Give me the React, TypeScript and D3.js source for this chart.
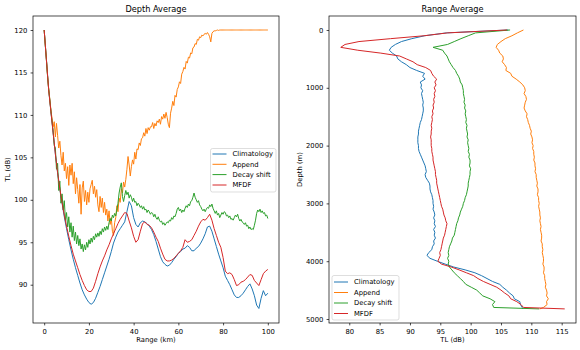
import { useEffect, useRef } from "react";
import * as d3 from "d3";

// ---- data -----------------------------------------------------------------
// left panel: depth-averaged TL vs range
const rangeFine = d3.range(0, 100.001, 0.5); // km
const rangeCoarse = d3.range(0, 101, 1); // km

const depthAvgClimatology = [
  120.0, 116.5, 113.0, 110.4, 107.9, 105.4, 103.2, 101.3, 99.6, 98.0,
  96.6, 95.3, 94.1, 93.0, 92.0, 91.1, 90.2, 89.4, 88.8, 88.3,
  87.9, 87.7, 87.9, 88.4, 89.1, 89.8, 90.6, 91.4, 92.2, 93.0,
  93.9, 94.9, 95.6, 96.2, 96.6, 97.0, 97.4, 98.6, 99.8, 99.3,
  97.9, 97.1, 96.8, 97.3, 97.5, 97.4, 97.2, 96.9, 96.5, 95.9,
  95.1, 94.2, 93.3, 92.7, 92.4, 92.2, 92.3, 92.6, 93.0, 93.3,
  93.7, 93.9, 94.2, 94.3, 94.6, 94.4, 94.0, 94.0, 94.3, 94.5,
  94.9, 95.4, 96.0, 96.8, 96.9, 96.3, 95.4, 94.5, 93.6, 92.8,
  92.0, 91.0, 90.5, 90.0, 89.4, 88.8, 88.5, 88.5, 88.7, 89.0,
  89.4, 89.8, 90.1, 89.5, 88.7, 87.6, 87.2, 88.4, 89.3, 88.7,
  89.0,
];

const depthAvgAppend = [
  120.0, 118.2, 116.5, 114.6, 113.1, 111.9, 110.6, 109.6, 108.6, 109.2,
  107.4, 109.0, 107.6, 106.1, 106.9, 105.2, 104.1, 105.6, 103.4, 104.3,
  102.5, 103.9, 101.7, 104.1, 102.9, 104.3, 101.9, 103.3, 100.7, 102.6,
  101.2, 99.6, 101.8, 98.3, 101.4, 102.2, 99.8, 101.1, 99.4, 100.9,
  99.7, 101.3, 101.8, 102.3, 100.7, 101.6, 100.3, 101.2, 99.4, 98.6,
  100.4, 99.1, 100.2, 98.5, 99.7, 98.2, 98.9, 97.5, 98.7, 97.1,
  97.9, 96.3, 95.8, 97.3, 97.9, 99.3, 98.6, 100.2, 99.7, 101.3,
  100.8, 102.1, 101.5, 102.4, 103.6, 105.1, 104.1, 102.8, 103.9, 104.7,
  104.2, 105.6, 104.8, 106.0, 105.9, 106.7, 106.4, 107.2, 107.3, 107.9,
  107.5, 108.4, 107.8, 108.5, 108.2, 108.6, 108.6, 109.1, 108.4, 109.0,
  108.7, 109.3, 109.1, 109.5, 108.9, 109.8, 109.5, 110.1, 109.6, 110.3,
  109.7, 108.9, 108.5, 110.2, 110.8, 111.6, 111.1, 112.3, 112.1, 113.0,
  113.3, 113.9, 113.7, 114.8, 115.1, 115.6, 115.4, 116.3, 116.1, 116.8,
  116.7, 117.3, 117.2, 117.9, 118.0, 118.4, 118.3, 118.9, 118.8, 119.2,
  119.1, 119.4, 119.3, 119.5, 119.6, 119.5, 119.7, 119.5, 119.2, 118.6,
  119.6, 119.8, 119.9, 119.9, 119.95, 120.0, 119.95, 120.0, 120.0, 120.0,
  120.0, 120.0, 120.0, 120.0, 120.0, 120.0, 120.0, 120.0, 120.0, 120.0,
  120.0, 120.0, 120.0, 120.0, 120.0, 120.0, 120.0, 120.0, 120.0, 120.0,
  120.0, 120.0, 120.0, 120.0, 120.0, 120.0, 120.0, 120.0, 120.0, 120.0,
  120.0, 120.0, 120.0, 120.0, 120.0, 120.0, 120.0, 120.0, 120.0, 120.0,
  120.0,
];

const depthAvgDecay = [
  120.0, 118.2, 116.5, 114.6, 113.1, 111.8, 110.5, 109.3, 108.1, 106.4,
  106.1, 103.6, 104.3, 101.1, 102.2, 99.6, 100.7, 98.8, 99.9, 97.6,
  98.5, 96.8, 98.0, 96.2, 97.3, 95.6, 96.9, 95.2, 96.2, 94.8,
  95.8, 94.6, 95.4, 94.2, 94.8, 93.9, 94.7, 94.1, 95.0, 94.4,
  95.3, 94.8, 95.5, 95.0, 95.7, 95.3, 96.0, 95.6, 96.1, 95.7,
  96.3, 95.9, 96.6, 96.2, 96.8, 96.4, 96.9, 96.5, 97.3, 97.8,
  97.5, 98.2, 97.9, 98.4, 98.1, 98.8, 99.6, 100.8, 101.5, 102.0,
  100.4, 99.8, 100.5, 101.1, 100.6, 100.9, 100.2, 100.6, 100.3, 99.8,
  100.2, 99.7, 99.8, 99.3, 99.6, 99.4, 99.1, 99.3, 98.9, 99.2,
  98.8, 98.9, 98.5, 98.8, 98.6, 98.3, 98.5, 98.4, 98.0, 98.3,
  97.9, 97.7, 98.0, 97.6, 97.4, 97.5, 97.1, 97.3, 97.0, 97.2,
  97.4, 97.3, 97.6, 97.5, 97.9, 97.7, 98.1, 98.0, 98.4, 98.9,
  99.1, 98.7, 98.9, 98.5, 98.8, 98.6, 99.0, 99.3, 99.1, 99.5,
  99.3, 99.8, 99.9, 100.3, 100.8, 100.3, 100.0, 99.7, 99.9, 99.4,
  99.2, 98.9, 98.7, 98.9, 98.6, 98.9, 99.1, 99.0, 99.4, 99.2,
  99.5, 99.0, 98.7, 98.4, 98.7, 98.2, 98.4, 97.9, 98.2, 98.5,
  98.3, 98.6, 98.5, 98.1, 98.2, 97.9, 98.1, 97.7, 97.8, 97.6,
  97.9, 98.2, 98.0, 98.3, 97.8, 97.5, 97.7, 97.4, 97.3, 97.1,
  97.3, 96.9, 97.0, 96.6, 96.8, 96.5, 96.6, 96.5, 97.0, 97.6,
  98.4, 98.8, 98.6, 98.9, 98.5, 98.7, 98.4, 98.5, 98.1, 98.2,
  97.8,
];

const depthAvgMfdf = [
  120.0, 116.5, 113.0, 110.4, 107.9, 105.4, 103.2, 101.3, 99.7, 98.2,
  96.9, 95.7, 94.6, 93.6, 92.8, 92.0, 91.2, 90.5, 89.9, 89.4,
  89.2, 89.2, 89.6, 90.4, 91.3, 92.1, 92.8, 93.4, 94.1, 94.7,
  95.4, 96.0, 96.6, 97.2, 97.7, 98.1, 98.5, 98.4, 97.5, 96.7,
  95.7, 95.0, 95.3, 96.3, 97.2, 97.4, 97.1, 97.0, 96.7, 96.2,
  95.6, 95.1, 94.3, 93.6, 93.0, 92.8, 92.8, 92.9, 93.1, 93.4,
  93.7, 94.0, 94.4, 95.3, 95.0, 95.1, 95.3, 95.8, 96.3, 96.9,
  97.4, 97.7, 97.6, 97.9, 98.3, 97.6, 96.6, 95.8, 95.0, 94.4,
  93.2, 91.6, 91.3, 91.4, 91.2, 90.6, 89.9, 90.0, 90.3, 90.4,
  90.6, 90.9, 91.2, 91.1, 90.5, 90.2, 89.9, 90.6, 91.3, 91.6,
  91.8,
];

// right panel: range-averaged TL vs depth
const depthM = [...d3.range(0, 4801, 50), 4825];

const rangeAvgClimatology = [
  106.2, 96.0, 92.4, 90.3, 88.6, 87.6, 86.9, 86.6, 87.1, 87.8,
  88.0, 88.6, 89.4, 90.0, 91.1, 92.4, 92.1, 92.5, 91.7, 91.9,
  91.8, 92.1, 91.9, 92.0, 92.1, 92.2, 92.1, 92.2, 92.2, 92.1,
  92.0, 91.9, 91.7, 91.6, 91.5, 91.4, 91.4, 91.3, 91.3, 91.3,
  91.4, 91.4, 91.5, 91.7, 91.9, 92.1, 92.3, 92.5, 92.6, 92.7,
  92.5, 92.6, 92.9, 93.2, 93.3, 93.3, 93.4, 93.6, 93.7, 93.8,
  93.8, 93.9, 93.8, 94.0, 94.1, 93.9, 94.1, 94.0, 94.2, 93.9,
  94.1, 94.0, 94.2, 93.9, 94.0, 93.7, 93.6, 93.1, 92.8, 93.3,
  94.5, 95.8, 97.2, 99.1, 100.7, 101.8, 102.7, 103.6, 104.8, 105.3,
  105.9, 106.4, 107.0, 107.2, 108.1, 108.2, 108.5,
  108.6,
];

const rangeAvgAppend = [
  108.7, 107.7, 106.8, 105.7, 105.0, 104.4, 104.2, 104.6, 104.8, 105.3,
  105.4, 105.2, 105.6, 105.9, 105.8, 106.6, 106.8, 107.5, 108.1, 108.6,
  108.9, 109.0, 108.8, 109.1, 109.2, 109.0, 108.9, 108.8, 109.0, 109.3,
  109.2, 109.4, 109.5, 109.7, 109.8, 110.0, 109.9, 110.1, 110.2, 110.1,
  110.3, 110.2, 110.4, 110.4, 110.5, 110.4, 110.6, 110.6, 110.7, 110.6,
  110.8, 110.8, 110.9, 111.0, 110.9, 111.1, 111.1, 111.0, 111.2, 111.2,
  111.3, 111.2, 111.3, 111.4, 111.4, 111.5, 111.4, 111.5, 111.6, 111.5,
  111.6, 111.7, 111.7, 111.6, 111.8, 111.8, 111.9, 111.8, 111.9, 112.0,
  112.0, 111.9, 112.1, 112.1, 112.0, 112.2, 112.2, 112.3, 112.4, 112.3,
  112.5, 112.6, 112.5, 112.8, 112.5, 112.6, 112.0,
  111.4,
];

const rangeAvgDecay = [
  106.5, 100.8, 99.6, 98.4, 97.3, 96.2, 93.8, 95.4, 95.7, 96.1,
  96.3, 96.5, 96.8, 97.1, 97.5, 97.7, 98.0, 98.2, 98.3, 98.6,
  98.7, 98.8, 98.8, 98.9, 99.0, 98.9, 99.1, 99.0, 99.2, 99.1,
  99.2, 99.3, 99.2, 99.4, 99.3, 99.4, 99.5, 99.4, 99.6, 99.5,
  99.6, 99.7, 99.6, 99.8, 99.7, 99.9, 99.9, 99.8, 100.0, 99.9,
  99.9, 99.8, 99.7, 99.6, 99.6, 99.5, 99.4, 99.3, 99.1, 99.0,
  98.8, 98.7, 98.5, 98.3, 98.2, 98.0, 97.9, 97.7, 97.6, 97.5,
  97.4, 97.3, 97.0, 96.9, 96.7, 96.5, 96.4, 96.3, 96.4, 96.2,
  96.4, 96.3, 96.5, 96.9, 97.3, 97.8, 98.3, 98.8, 99.2, 100.1,
  101.0, 101.5, 102.0, 103.2, 104.0, 103.6, 103.8,
  111.3,
];

const rangeAvgMfdf = [
  106.0, 96.2, 92.3, 86.8, 81.6, 79.3, 78.6, 81.4, 85.2, 88.3,
  89.4, 90.5, 91.2, 92.6, 93.4, 93.6, 93.9, 94.4, 94.1, 94.3,
  94.0, 94.2, 94.0, 94.1, 93.9, 94.0, 93.8, 93.9, 93.7, 93.8,
  93.6, 93.7, 93.6, 93.5, 93.6, 93.5, 93.5, 93.4, 93.5, 93.5,
  93.5, 93.6, 93.6, 93.7, 93.8, 93.8, 93.9, 94.0, 94.1, 94.2,
  94.2, 94.3, 94.4, 94.4, 94.5, 94.6, 94.7, 94.8, 94.9, 95.0,
  95.1, 95.2, 95.4, 95.5, 95.6, 95.8, 95.9, 96.1, 96.0, 95.9,
  95.8, 95.7, 95.5, 95.4, 95.3, 95.2, 95.1, 94.9, 95.0, 94.8,
  94.6, 95.2, 96.8, 98.1, 99.3, 100.5, 101.2, 102.1, 103.2, 104.3,
  105.0, 105.6, 106.3, 106.6, 107.6, 108.3, 108.7,
  115.5,
];

const seriesNames = ["Climatology", "Append", "Decay shift", "MFDF"];
const seriesColors = ["#1f77b4", "#ff7f0e", "#2ca02c", "#d62728"];

const leftXTicks = [0, 20, 40, 60, 80, 100];
const leftYTicks = [90, 95, 100, 105, 110, 115, 120];
const rightXTicks = [80, 85, 90, 95, 100, 105, 110, 115];
const rightYTicks = [0, 1000, 2000, 3000, 4000, 5000];

// ---- chart ----------------------------------------------------------------
const FONT = "DejaVu Sans, sans-serif";
const W = 580;
const H = 350;

const App = () => {
  const svgRef = useRef<SVGSVGElement | null>(null);

  useEffect(() => {
    if (!svgRef.current) return;
    document.body.style.margin = "0";

    const svg = d3.select(svgRef.current);
    svg.selectAll("*").remove();
    svg.attr("width", W).attr("height", H).style("display", "block");
    svg.append("rect").attr("width", W).attr("height", H).attr("fill", "#fff");

    const styleAxis = (axis: any) => {
      axis.attr("font-family", FONT).attr("font-size", 6.8);
      axis.select(".domain").remove();
      axis.selectAll("line").attr("stroke", "#000").attr("stroke-width", 0.7);
      axis.selectAll("text").attr("fill", "#000");
    };

    const drawFrame = (g: any, x0: number, x1: number, y0: number, y1: number) => {
      g.append("rect")
        .attr("x", x0)
        .attr("y", y0)
        .attr("width", x1 - x0)
        .attr("height", y1 - y0)
        .attr("fill", "none")
        .attr("stroke", "#000")
        .attr("stroke-width", 0.7);
    };

    const drawLegend = (g: any, x: number, y: number, w: number, h: number, rowY: number[]) => {
      g.append("rect")
        .attr("x", x)
        .attr("y", y)
        .attr("width", w)
        .attr("height", h)
        .attr("rx", 2)
        .attr("fill", "#fff")
        .attr("fill-opacity", 0.8)
        .attr("stroke", "#d0d0d0")
        .attr("stroke-width", 0.7);
      seriesNames.forEach((name, i) => {
        g.append("line")
          .attr("x1", x + 2)
          .attr("x2", x + 16)
          .attr("y1", rowY[i])
          .attr("y2", rowY[i])
          .attr("stroke", seriesColors[i])
          .attr("stroke-width", 1);
        g.append("text")
          .attr("x", x + 22)
          .attr("y", rowY[i] + 2.4)
          .attr("font-family", FONT)
          .attr("font-size", 6.8)
          .attr("fill", "#000")
          .text(name);
      });
    };

    const addText = (txt: string, x: number, y: number, size: number, rotate = false) => {
      const t = svg
        .append("text")
        .attr("font-family", FONT)
        .attr("font-size", size)
        .attr("fill", "#000")
        .attr("text-anchor", "middle")
        .text(txt);
      if (rotate) t.attr("transform", `translate(${x},${y}) rotate(-90)`);
      else t.attr("x", x).attr("y", y);
    };

    // -- left panel: Depth Average
    const L = { x0: 33, x1: 279, y0: 16, y1: 323 };
    const lx = d3.scaleLinear().domain([-5, 105]).range([L.x0, L.x1]);
    const ly = d3.scaleLinear().domain([85.49, 121.65]).range([L.y1, L.y0]);
    const gl = svg.append("g");

    const leftSeries = [
      { xs: rangeCoarse, ys: depthAvgClimatology },
      { xs: rangeFine, ys: depthAvgAppend },
      { xs: rangeFine, ys: depthAvgDecay },
      { xs: rangeCoarse, ys: depthAvgMfdf },
    ];
    leftSeries.forEach((s, i) => {
      const line = d3
        .line<number>()
        .x((_, k) => lx(s.xs[k]))
        .y((d) => ly(d));
      gl.append("path")
        .datum(s.ys)
        .attr("fill", "none")
        .attr("stroke", seriesColors[i])
        .attr("stroke-width", 1)
        .attr("stroke-linejoin", "round")
        .attr("d", line);
    });

    gl.append("g")
      .attr("transform", `translate(0,${L.y1})`)
      .call(d3.axisBottom(lx).tickValues(leftXTicks).tickSize(2.4).tickPadding(3.8).tickFormat(d3.format("d")))
      .call(styleAxis);
    gl.append("g")
      .attr("transform", `translate(${L.x0},0)`)
      .call(d3.axisLeft(ly).tickValues(leftYTicks).tickSize(2.4).tickPadding(3.3).tickFormat(d3.format("d")))
      .call(styleAxis);
    drawFrame(gl, L.x0, L.x1, L.y0, L.y1);
    drawLegend(gl, 210.5, 148.5, 65.5, 43.5, [154, 164.3, 174.6, 185]);

    addText("Depth Average", (L.x0 + L.x1) / 2, 12.3, 8.2);
    addText("Range (km)", (L.x0 + L.x1) / 2, 342, 6.8);
    addText("TL (dB)", 9.8, (L.y0 + L.y1) / 2, 6.8, true);

    // -- right panel: Range Average
    const R = { x0: 329, x1: 576, y0: 16, y1: 323 };
    const rx = d3.scaleLinear().domain([76.66, 117.36]).range([R.x0, R.x1]);
    const ry = d3.scaleLinear().domain([-242, 5069]).range([R.y0, R.y1]);
    const gr = svg.append("g");

    [rangeAvgClimatology, rangeAvgAppend, rangeAvgDecay, rangeAvgMfdf].forEach((vals, i) => {
      const line = d3
        .line<number>()
        .x((d) => rx(d))
        .y((_, k) => ry(depthM[k]));
      gr.append("path")
        .datum(vals)
        .attr("fill", "none")
        .attr("stroke", seriesColors[i])
        .attr("stroke-width", 1)
        .attr("stroke-linejoin", "round")
        .attr("d", line);
    });

    gr.append("g")
      .attr("transform", `translate(0,${R.y1})`)
      .call(d3.axisBottom(rx).tickValues(rightXTicks).tickSize(2.4).tickPadding(3.8).tickFormat(d3.format("d")))
      .call(styleAxis);
    gr.append("g")
      .attr("transform", `translate(${R.x0},0)`)
      .call(d3.axisLeft(ry).tickValues(rightYTicks).tickSize(2.4).tickPadding(3.3).tickFormat(d3.format("d")))
      .call(styleAxis);
    drawFrame(gr, R.x0, R.x1, R.y0, R.y1);
    drawLegend(gr, 332, 275.5, 67, 44.5, [282, 292.5, 303, 313.5]);

    addText("Range Average", (R.x0 + R.x1) / 2, 12.3, 8.2);
    addText("TL (dB)", (R.x0 + R.x1) / 2, 342, 6.8);
    addText("Depth (m)", 301.7, (R.y0 + R.y1) / 2, 6.8, true);
  }, []);

  return <svg ref={svgRef} />;
};

export default App;
